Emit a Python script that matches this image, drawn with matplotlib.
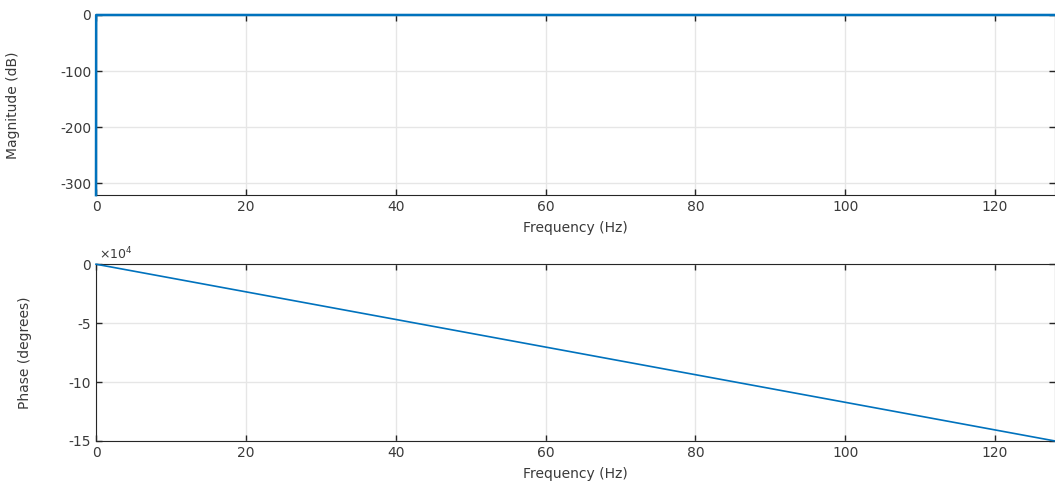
import numpy as np
import matplotlib.pyplot as plt
from matplotlib.ticker import FuncFormatter

# frequency response samples (Hz, dB, degrees)
freq_mag = [0.0, 0.02, 128.0]
mag_db = [-321.0, 0.0, 0.0]
freq_phase = [0.0, 128.0]
phase_deg = [0.0, -150000.0]

plt.rcParams['font.family'] = ['DejaVu Sans']
plt.rcParams['font.size'] = 10
plt.rcParams['axes.unicode_minus'] = False

line_color = '#0072BD'
grid_color = '#e6e6e6'
text_color = '#3a3a3a'


def style_axes(ax):
    ax.grid(True, color=grid_color, linewidth=1.0)
    ax.set_axisbelow(True)
    ax.tick_params(direction='in', top=True, right=True, length=4,
                   width=1.0, colors='#262626', labelcolor=text_color)
    for s in ax.spines.values():
        s.set_color('#262626')
        s.set_linewidth(0.8)
    ax.set_xlim(0, 128)
    ax.set_xticks([0, 20, 40, 60, 80, 100, 120])
    ax.set_xlabel('Frequency (Hz)', color=text_color, labelpad=5)


fig = plt.figure(figsize=(10.55, 4.83), dpi=100)
ax1 = fig.add_axes([0.091, 0.596, 0.909, 0.373])
ax2 = fig.add_axes([0.091, 0.087, 0.909, 0.366])

style_axes(ax1)
ax1.plot(freq_mag, mag_db, color=line_color, linewidth=1.8,
         zorder=5, clip_on=False)
ax1.set_ylim(-321, 0)
ax1.set_yticks([0, -100, -200, -300])
ax1.set_ylabel('Magnitude (dB)', color=text_color)
ax1.yaxis.set_label_coords(-0.079, 0.5)

style_axes(ax2)
ax2.plot(freq_phase, phase_deg, color=line_color, linewidth=1.2,
         zorder=5, clip_on=False)
ax2.set_ylim(-150000, 0)
ax2.set_yticks([0, -50000, -100000, -150000])
ax2.yaxis.set_major_formatter(FuncFormatter(lambda v, _: f'{v / 1e4:g}'))
ax2.text(0.003, 1.01, r'$\times10^{4}$', transform=ax2.transAxes,
         ha='left', va='bottom', color=text_color, fontsize=9)
ax2.set_ylabel('Phase (degrees)', color=text_color)
ax2.yaxis.set_label_coords(-0.067, 0.5)

fig.savefig('out.png', dpi=100)
